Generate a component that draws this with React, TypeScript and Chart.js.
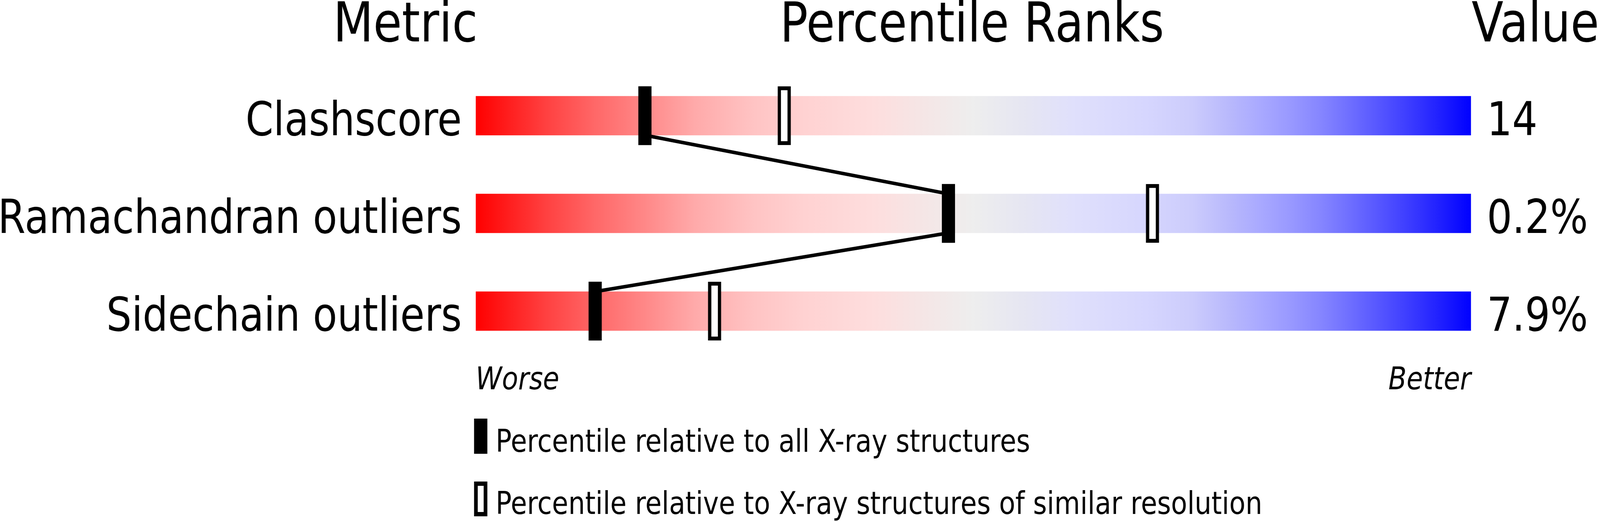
import { useEffect, useRef } from "react";
import { Chart, registerables } from "chart.js";

Chart.register(...registerables);

// data
const metrics = ["Clashscore", "Ramachandran outliers", "Sidechain outliers"];
const metricValues = ["14", "0.2%", "7.9%"];
const pctAllXray = [17, 47.5, 12];
const pctSimilarRes = [31, 68, 24];
const legendLabels = [
	"Percentile relative to all X-ray structures",
	"Percentile relative to X-ray structures of similar resolution"
];

// slider colours, worse -> better
const sliderStops: Array<[number, string]> = [
	[0, "rgb(255,0,0)"],
	[0.07, "rgb(255,64,64)"],
	[0.12, "rgb(255,104,104)"],
	[0.17, "rgb(255,136,136)"],
	[0.22, "rgb(255,170,170)"],
	[0.28, "rgb(255,196,196)"],
	[0.33, "rgb(255,210,210)"],
	[0.4, "rgb(254,222,222)"],
	[0.45, "rgb(245,230,230)"],
	[0.5, "rgb(238,238,238)"],
	[0.55, "rgb(230,230,242)"],
	[0.6, "rgb(224,224,252)"],
	[0.675, "rgb(214,214,254)"],
	[0.72, "rgb(204,204,252)"],
	[0.755, "rgb(186,186,252)"],
	[0.787, "rgb(170,170,255)"],
	[0.82, "rgb(152,152,255)"],
	[0.85, "rgb(133,133,255)"],
	[0.88, "rgb(109,109,255)"],
	[0.915, "rgb(80,80,255)"],
	[0.946, "rgb(53,53,255)"],
	[0.98, "rgb(21,21,255)"],
	[1, "rgb(0,0,255)"]
];

const FONT = "'DejaVu Sans', 'Noto Sans', sans-serif";
const W = 4823;
const H = 1333;
const ROW_PX = 250;
const BAR_PX = 100;
const MARK_PX = 150;
const MARK_HALF = 0.65; // half marker width, in percentile units
const barHalfRows = BAR_PX / 2 / ROW_PX;

const textPlugin = {
	id: "sliderText",
	afterDraw(chart: Chart) {
		const { ctx } = chart;
		const xs = chart.scales.x;
		const ys = chart.scales.y;
		const left = xs.getPixelForValue(0);
		const right = xs.getPixelForValue(100);
		ctx.save();
		ctx.fillStyle = "#000";
		ctx.textBaseline = "alphabetic";

		ctx.font = `140px ${FONT}`;
		ctx.textAlign = "center";
		ctx.fillText("Metric", 1222, 106);
		ctx.fillText("Percentile Ranks", (left + right) / 2 - 4, 106);
		ctx.textAlign = "left";
		ctx.fillText("Value", right + 2, 106);

		ctx.font = `120px ${FONT}`;
		metrics.forEach((m, i) => {
			const base = ys.getPixelForValue(i) + BAR_PX / 2;
			ctx.textAlign = "right";
			ctx.fillText(m, left - 42, base);
			ctx.textAlign = "left";
			ctx.fillText(metricValues[i], right + 48, base);
		});

		ctx.font = `italic 80px ${FONT}`;
		ctx.textAlign = "left";
		ctx.fillText("Worse", left, 996);
		ctx.textAlign = "right";
		ctx.fillText("Better", right, 996);

		// legend
		ctx.fillRect(left - 5, 1071, 40, 90);
		ctx.lineWidth = 11;
		ctx.strokeStyle = "#000";
		ctx.strokeRect(left - 5 + 5.5, 1232 + 5.5, 40 - 11, 89 - 11);
		ctx.font = `80px ${FONT}`;
		ctx.textAlign = "left";
		ctx.fillText(legendLabels[0], left + 60, 1156);
		ctx.fillText(legendLabels[1], left + 60, 1315);
		ctx.restore();
	}
};

export default function App() {
	const canvasRef = useRef<HTMLCanvasElement>(null);

	useEffect(() => {
		if (!canvasRef.current) return;
		document.body.style.margin = "0";

		const linePoints: Array<{ x: number; y: number }> = [];
		pctAllXray.forEach((p, i) => {
			if (i > 0) linePoints.push({ x: p, y: i - barHalfRows });
			if (i < pctAllXray.length - 1) linePoints.push({ x: p, y: i + barHalfRows });
		});

		const chart = new Chart(canvasRef.current, {
			type: "bar",
			data: {
				datasets: [
					{
						type: "bar",
						indexAxis: "y",
						data: metrics.map((_, i) => ({ y: i, x: [0, 100] })),
						barThickness: BAR_PX,
						grouped: false,
						order: 3,
						borderWidth: 0,
						backgroundColor: (c: any) => {
							const ch = c.chart;
							if (!ch.chartArea) return "#eee";
							const x0 = ch.scales.x.getPixelForValue(0);
							const x1 = ch.scales.x.getPixelForValue(100);
							const g = ch.ctx.createLinearGradient(x0, 0, x1, 0);
							sliderStops.forEach(([o, col]) => g.addColorStop(o, col));
							return g;
						}
					} as any,
					{
						type: "line",
						data: linePoints,
						borderColor: "#000",
						borderWidth: 9,
						pointRadius: 0,
						tension: 0,
						fill: false,
						order: 2
					} as any,
					{
						type: "bar",
						indexAxis: "y",
						data: pctSimilarRes.map((p, i) => ({ y: i, x: [p - MARK_HALF, p + MARK_HALF] })),
						barThickness: MARK_PX,
						grouped: false,
						order: 1,
						backgroundColor: "#fff",
						borderColor: "#000",
						borderWidth: 10,
						borderSkipped: false
					} as any,
					{
						type: "bar",
						indexAxis: "y",
						data: pctAllXray.map((p, i) => ({ y: i, x: [p - MARK_HALF, p + MARK_HALF] })),
						barThickness: MARK_PX,
						grouped: false,
						order: 0,
						backgroundColor: "#000",
						borderWidth: 0
					} as any
				]
			},
			options: {
				animation: false,
				responsive: false,
				devicePixelRatio: 1,
				events: [],
				layout: { padding: { left: 1434, right: W - 4434, top: 46, bottom: H - 1046 } },
				plugins: { legend: { display: false }, tooltip: { enabled: false } },
				scales: {
					x: { type: "linear", min: 0, max: 100, offset: false, display: false },
					y: { type: "linear", min: -1, max: 3, reverse: true, offset: false, display: false }
				}
			},
			plugins: [textPlugin]
		});

		return () => {
			chart.destroy();
		};
	}, []);

	// the window is narrower than the picture, so the canvas is shown at the window's width
	return (
		<div style={{ width: "100vw", height: H, background: "#fff", overflow: "hidden" }}>
			<canvas
				ref={canvasRef}
				width={W}
				height={H}
				style={{ display: "block", width: "100vw", height: `${H}px` }}
			/>
		</div>
	);
}
